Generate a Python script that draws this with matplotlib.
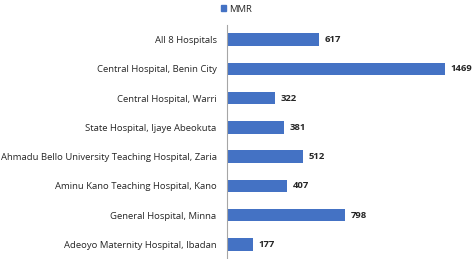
import matplotlib
matplotlib.use("Agg")
import matplotlib.pyplot as plt
from matplotlib.patches import Patch

hospitals = [
    "All 8 Hospitals",
    "Central Hospital, Benin City",
    "Central Hospital, Warri",
    "State Hospital, Ijaye Abeokuta",
    "Ahmadu Bello University Teaching Hospital, Zaria",
    "Aminu Kano Teaching Hospital, Kano",
    "General Hospital, Minna",
    "Adeoyo Maternity Hospital, Ibadan",
]
mmr = [617, 1469, 322, 381, 512, 407, 798, 177]

BAR_COLOR = "#4472C4"
TEXT_COLOR = "#262626"

plt.rcParams["font.family"] = ["Open Sans", "DejaVu Sans"]

fig = plt.figure(figsize=(4.73, 2.59), dpi=100)
ax = fig.add_axes([227 / 473, 0.0, 1 - 227 / 473, 1 - 25 / 259])

y = list(range(len(hospitals)))
ax.barh(y, mmr, height=0.43, color=BAR_COLOR)
ax.set_ylim(len(hospitals) - 0.5, -0.5)
ax.set_xlim(0, 1658)

for yi, v in zip(y, mmr):
    ax.text(v + 38, yi, str(v), va="center", ha="left", fontsize=6.8,
            fontweight="bold", color=TEXT_COLOR)

ax.set_yticks(y)
ax.set_yticklabels(hospitals, fontsize=6.8, color=TEXT_COLOR)
ax.tick_params(axis="y", length=0, pad=7.5)
ax.set_xticks([])
for side in ("top", "right", "bottom"):
    ax.spines[side].set_visible(False)
ax.spines["left"].set_color("#a6a6a6")
ax.spines["left"].set_linewidth(0.8)

fig.legend(handles=[Patch(color=BAR_COLOR, label="MMR")], loc="upper center",
           bbox_to_anchor=(0.5, 1.015), frameon=False, fontsize=6.8,
           handlelength=0.6, handleheight=0.6, handletextpad=0.3,
           labelcolor=TEXT_COLOR)

fig.savefig("out.png", dpi=100)
